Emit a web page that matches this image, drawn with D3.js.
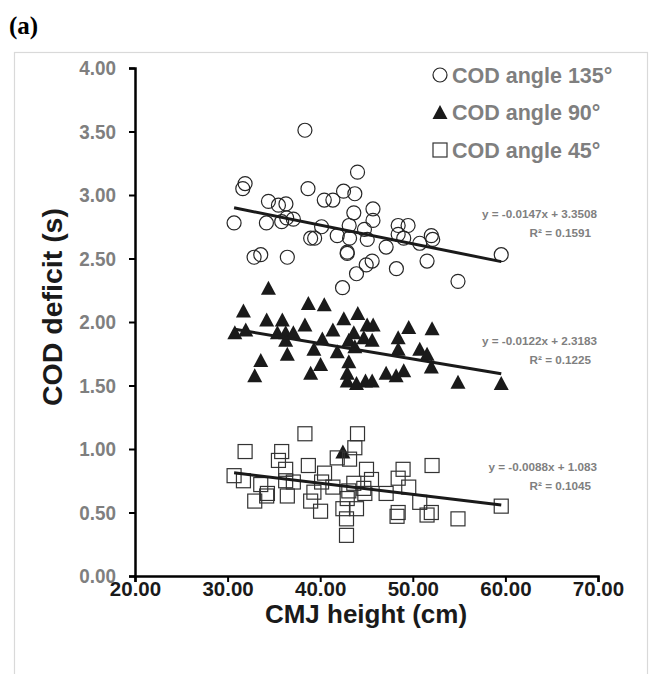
<!DOCTYPE html>
<html>
<head>
<meta charset="utf-8">
<script src="https://cdn.jsdelivr.net/npm/d3@7/dist/d3.min.js"></script>
<style>
  body { margin: 0; background: #fff; }
  text { font-family: "Liberation Sans", Arial, sans-serif; font-weight: bold; }
</style>
</head>
<body>
<svg id="chart" width="652" height="674"></svg>
<script>
// CMJ height (cm) vs COD deficit (s) for three change-of-direction angles
const angle135X = [38.35,44.03,31.89,31.64,38.68,42.52,43.74,40.44,41.37,34.41,35.49,36.30,45.70,43.63,45.70,30.70,34.19,35.84,36.38,37.10,40.15,43.13,44.78,41.84,43.17,45.08,38.97,39.40,47.12,42.92,42.92,32.86,33.58,36.45,45.61,44.97,43.92,42.41,48.42,49.49,48.42,49.02,50.75,52.00,52.15,51.54,48.23,54.88,59.55];
const angle135Y = [3.51,3.18,3.09,3.05,3.05,3.03,3.01,2.96,2.96,2.95,2.92,2.93,2.89,2.86,2.80,2.78,2.78,2.79,2.82,2.81,2.75,2.76,2.73,2.68,2.66,2.65,2.66,2.66,2.59,2.55,2.54,2.51,2.53,2.51,2.48,2.45,2.38,2.27,2.76,2.76,2.69,2.66,2.62,2.68,2.65,2.48,2.42,2.32,2.53];

const angle90X = [34.41,38.72,40.44,31.71,34.22,35.91,38.35,42.55,44.06,45.07,45.72,41.37,30.78,31.96,35.38,36.27,37.10,36.27,40.23,43.63,43.09,44.71,45.61,43.74,39.32,41.84,36.45,33.58,40.04,43.09,32.93,38.97,42.92,42.92,43.92,44.89,45.61,49.56,52.08,48.42,48.42,50.75,51.54,52.00,47.12,48.20,49.02,54.88,59.55,42.45];
const angle90Y = [2.27,2.15,2.14,2.09,2.02,2.02,1.98,2.03,2.07,1.98,1.98,1.94,1.92,1.94,1.92,1.92,1.92,1.86,1.87,1.92,1.86,1.88,1.86,1.81,1.79,1.77,1.75,1.70,1.67,1.69,1.58,1.60,1.60,1.54,1.52,1.54,1.54,1.96,1.95,1.88,1.79,1.79,1.75,1.65,1.60,1.58,1.62,1.53,1.52,0.98];

const angle45X = [38.35,44.03,31.89,35.84,43.74,35.49,41.84,43.17,38.72,36.27,40.47,45.00,30.70,31.71,36.27,37.10,40.15,45.54,33.58,41.37,43.63,44.71,34.30,34.22,39.32,43.09,32.93,36.45,38.97,42.92,44.82,40.04,42.45,43.92,42.84,42.84,52.08,48.95,48.42,49.56,47.12,50.75,48.42,48.30,51.54,52.00,54.88,59.55];
const angle45Y = [1.12,1.12,0.98,0.98,1.01,0.91,0.93,0.92,0.87,0.84,0.81,0.84,0.79,0.75,0.75,0.74,0.74,0.76,0.72,0.70,0.73,0.69,0.65,0.63,0.66,0.67,0.59,0.63,0.59,0.61,0.65,0.51,0.53,0.53,0.45,0.32,0.87,0.84,0.77,0.70,0.65,0.58,0.50,0.47,0.48,0.50,0.45,0.55];

// Linear fits (slope, intercept, R²)
const seriesNames = ["COD angle 135°", "COD angle 90°", "COD angle 45°"];
const fitSlopes = [-0.0147, -0.0122, -0.0088];
const fitIntercepts = [3.3508, 2.3183, 1.083];
const fitR2 = ["0.1591", "0.1225", "0.1045"];

const xTicks = [20, 30, 40, 50, 60, 70];
const yTicks = [0, 0.5, 1, 1.5, 2, 2.5, 3, 3.5, 4];

const svg = d3.select("#chart");
const x = d3.scaleLinear().domain([20, 70]).range([135, 598]);
const y = d3.scaleLinear().domain([0, 4]).range([576, 68]);

// outer frame
svg.append("rect").attr("x", 14.5).attr("y", 52.5).attr("width", 633).attr("height", 640)
  .attr("fill", "none").attr("stroke", "#d9d9d9").attr("stroke-width", 1.2);

svg.append("text").attr("x", 9).attr("y", 34)
  .style("font-family", "'Liberation Serif', 'Times New Roman', serif")
  .style("font-size", "25px").attr("fill", "#000").text("(a)");

// axes
const yAxis = svg.append("g").attr("transform", "translate(135,0)")
  .call(d3.axisLeft(y).tickValues(yTicks).tickFormat(d3.format(".2f")).tickSizeOuter(0).tickSize(6));
yAxis.select(".domain").attr("stroke", "#000").attr("stroke-width", 2.5);
yAxis.selectAll(".tick line").attr("stroke", "#000").attr("stroke-width", 2);
yAxis.selectAll(".tick text").attr("fill", "#7f7f7f").style("font-size", "21px")
  .attr("x", -19 / 0.9)
  .attr("transform", "scale(0.9,1)");

const xAxis = svg.append("g").attr("transform", "translate(0,576)")
  .call(d3.axisBottom(x).tickValues(xTicks).tickFormat(d3.format(".2f")).tickSizeOuter(0).tickSize(6));
xAxis.select(".domain").attr("stroke", "#000").attr("stroke-width", 2.5);
xAxis.selectAll(".tick line").attr("stroke", "#000").attr("stroke-width", 2);
xAxis.selectAll(".tick text").attr("fill", "#1a1a1a").style("font-size", "20.5px")
  .attr("y", 5);

// axis titles
svg.append("text").attr("x", 366).attr("y", 623).attr("text-anchor", "middle")
  .style("font-size", "26px").attr("fill", "#1a1a1a").text("CMJ height (cm)");
svg.append("text").attr("transform", "translate(62,307) rotate(-90)").attr("text-anchor", "middle")
  .style("font-size", "28.5px").attr("fill", "#1a1a1a").text("COD deficit (s)");

// marker shapes
function triPath(w, h) {
  return `M0,${-h / 2}L${w / 2},${h / 2}L${-w / 2},${h / 2}Z`;
}
function drawMarker(g, kind, cx, cy) {
  if (kind === "circle") {
    g.append("circle").attr("cx", cx).attr("cy", cy).attr("r", 7)
      .attr("fill", "none").attr("stroke", "#262626").attr("stroke-width", 1.2);
  } else if (kind === "square") {
    g.append("rect").attr("x", cx - 7).attr("y", cy - 7).attr("width", 14).attr("height", 14)
      .attr("fill", "none").attr("stroke", "#333").attr("stroke-width", 1.2);
  } else {
    g.append("path").attr("d", triPath(15, 14)).attr("transform", `translate(${cx},${cy})`)
      .attr("fill", "#1a1a1a");
  }
}

const series = [
  { xs: angle135X, ys: angle135Y, kind: "circle" },
  { xs: angle90X, ys: angle90Y, kind: "triangle" },
  { xs: angle45X, ys: angle45Y, kind: "square" }
];

const markG = svg.append("g");
series.forEach(s => {
  s.xs.forEach((v, i) => drawMarker(markG, s.kind, x(v), y(s.ys[i])));
});

// trend lines with their equations
const labelY = [[214, 233], [341, 360], [467, 486]];
series.forEach((s, k) => {
  const x0 = d3.min(s.xs), x1 = d3.max(s.xs);
  const f = v => fitSlopes[k] * v + fitIntercepts[k];
  svg.append("line")
    .attr("x1", x(x0)).attr("y1", y(f(x0)))
    .attr("x2", x(x1)).attr("y2", y(f(x1)))
    .attr("stroke", "#1a1a1a").attr("stroke-width", 3);
  const eq = `y = ${fitSlopes[k]}x + ${fitIntercepts[k]}`;
  svg.append("text").attr("x", 597).attr("y", labelY[k][0]).attr("dy", "0.35em")
    .attr("text-anchor", "end").style("font-size", "11.7px").attr("fill", "#7f7f7f").text(eq);
  svg.append("text").attr("x", 591).attr("y", labelY[k][1]).attr("dy", "0.35em")
    .attr("text-anchor", "end").style("font-size", "11.7px").attr("fill", "#7f7f7f").text(`R² = ${fitR2[k]}`);
});

// legend
const legY = [75, 112, 150];
series.forEach((s, k) => {
  drawMarker(svg, s.kind, 440, legY[k]);
  svg.append("text").attr("x", 452).attr("y", legY[k]).attr("dy", "0.36em")
    .style("font-size", "21.5px").attr("fill", "#7f7f7f").text(seriesNames[k]);
});
</script>
</body>
</html>
